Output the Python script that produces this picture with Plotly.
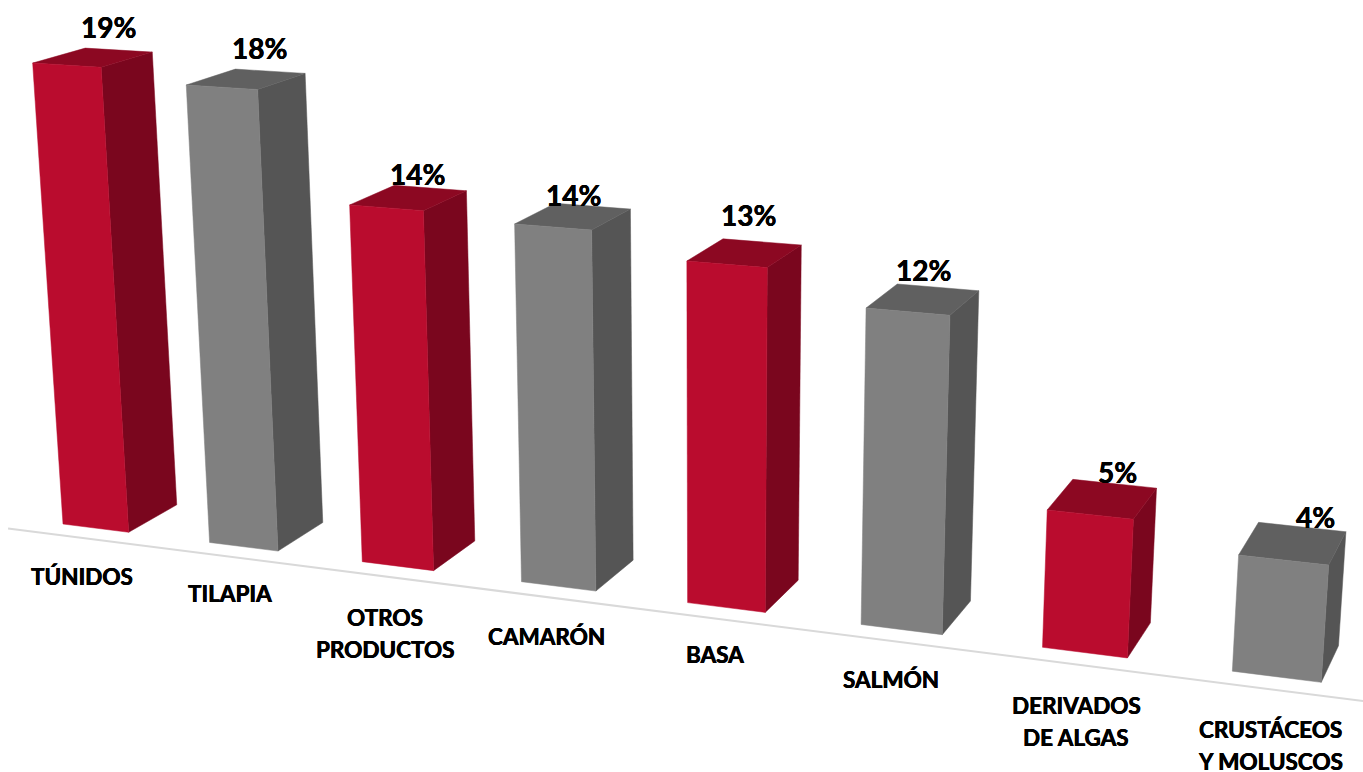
import plotly.graph_objects as go

# ---- data ----
CATEGORIES = ["TÚNIDOS", "TILAPIA", "OTROS<br>PRODUCTOS", "CAMARÓN", "BASA",
              "SALMÓN", "DERIVADOS<br>DE ALGAS", "CRUSTÁCEOS<br>Y MOLUSCOS"]
VALUES = [18.93, 18.45, 14.26, 14.03, 13.16, 11.98, 5.19, 4.31]
VALUE_LABELS = ["19%", "18%", "14%", "14%", "13%", "12%", "5%", "4%"]
IS_RED = [True, False, True, False, True, False, True, False]

# ---- styling / layout ----
FRONT = {True: "#BA0C2E", False: "#808080"}
SIDE = {True: "#7A061E", False: "#555555"}
TOP = {True: "#8C0822", False: "#606060"}
BAR_WIDTH = 0.453
BAR_DEPTH = 1.0
AXIS_OFFSET = -0.33
AXIS_SPAN = (-0.264, 7.72)

CAT_POS = [(82, 576), (230, 593), (385, 617), (546, 636), (715, 654),
           (891, 679), (1076, 705), (1270, 729)]
VAL_POS = [(108, 27), (259, 48), (417, 174), (573, 195), (748, 215),
           (923, 270), (1117, 472), (1315, 517)]
CAT_LINE = 32
CAT_SIZE = 22.5
VAL_SIZE = 28
BOLDER = "0.35px 0 0 #000000, -0.35px 0 0 #000000"


def project(x, y, z):
    """Perspective view of a (bar index, depth, value) point."""
    w = 1 - 0.02 * x + 0.02837 * y - 0.00237 * z
    u = 63 + 142.4 * x + 52.65 * y - 1.68 * z
    v = 524 + 7.6 * x - 12.9 * y - 24.5 * z
    return u / w, v / w


def face(points, color):
    pts = [project(*p) for p in points] + [project(*points[0])]
    return go.Scatter(x=[p[0] for p in pts], y=[p[1] for p in pts], mode="lines",
                      fill="toself", fillcolor=color, line=dict(width=0.5, color=color),
                      hoverinfo="skip", showlegend=False)


fig = go.Figure()

ax = [project(AXIS_SPAN[0], AXIS_OFFSET, 0), project(AXIS_SPAN[1], AXIS_OFFSET, 0)]
fig.add_trace(go.Scatter(x=[p[0] for p in ax], y=[p[1] for p in ax], mode="lines",
                         line=dict(color="#D9D9D9", width=2), hoverinfo="skip", showlegend=False))

for i, (val, red) in enumerate(zip(VALUES, IS_RED)):
    x0, x1 = i, i + BAR_WIDTH
    d = BAR_DEPTH
    fig.add_trace(face([(x1, 0, 0), (x1, d, 0), (x1, d, val), (x1, 0, val)], SIDE[red]))
    fig.add_trace(face([(x0, 0, val), (x1, 0, val), (x1, d, val), (x0, d, val)], TOP[red]))
    fig.add_trace(face([(x0, 0, 0), (x1, 0, 0), (x1, 0, val), (x0, 0, val)], FRONT[red]))

for name, (cx, cy) in zip(CATEGORIES, CAT_POS):
    for k, line in enumerate(name.split("<br>")):
        fig.add_annotation(x=cx, y=cy + k * CAT_LINE, text=line, showarrow=False,
                           xanchor="center", yanchor="middle",
                           font=dict(family="Lato", size=CAT_SIZE, color="#000000", weight=700,
                                     shadow=BOLDER))
for label, (cx, cy) in zip(VALUE_LABELS, VAL_POS):
    fig.add_annotation(x=cx, y=cy, text=label, showarrow=False,
                       xanchor="center", yanchor="middle",
                       font=dict(family="Lato", size=VAL_SIZE, color="#000000", weight=700,
                                 shadow=BOLDER))

fig.update_layout(
    width=1363, height=772, margin=dict(l=0, r=0, t=0, b=0),
    paper_bgcolor="#FFFFFF", plot_bgcolor="#FFFFFF", showlegend=False,
    xaxis=dict(range=[0, 1363], visible=False, fixedrange=True),
    yaxis=dict(range=[772, 0], visible=False, fixedrange=True),
)
fig.write_html("out.html", config={"displayModeBar": False},
               post_script="document.body.style.margin='0';document.documentElement.style.overflow='hidden';")
